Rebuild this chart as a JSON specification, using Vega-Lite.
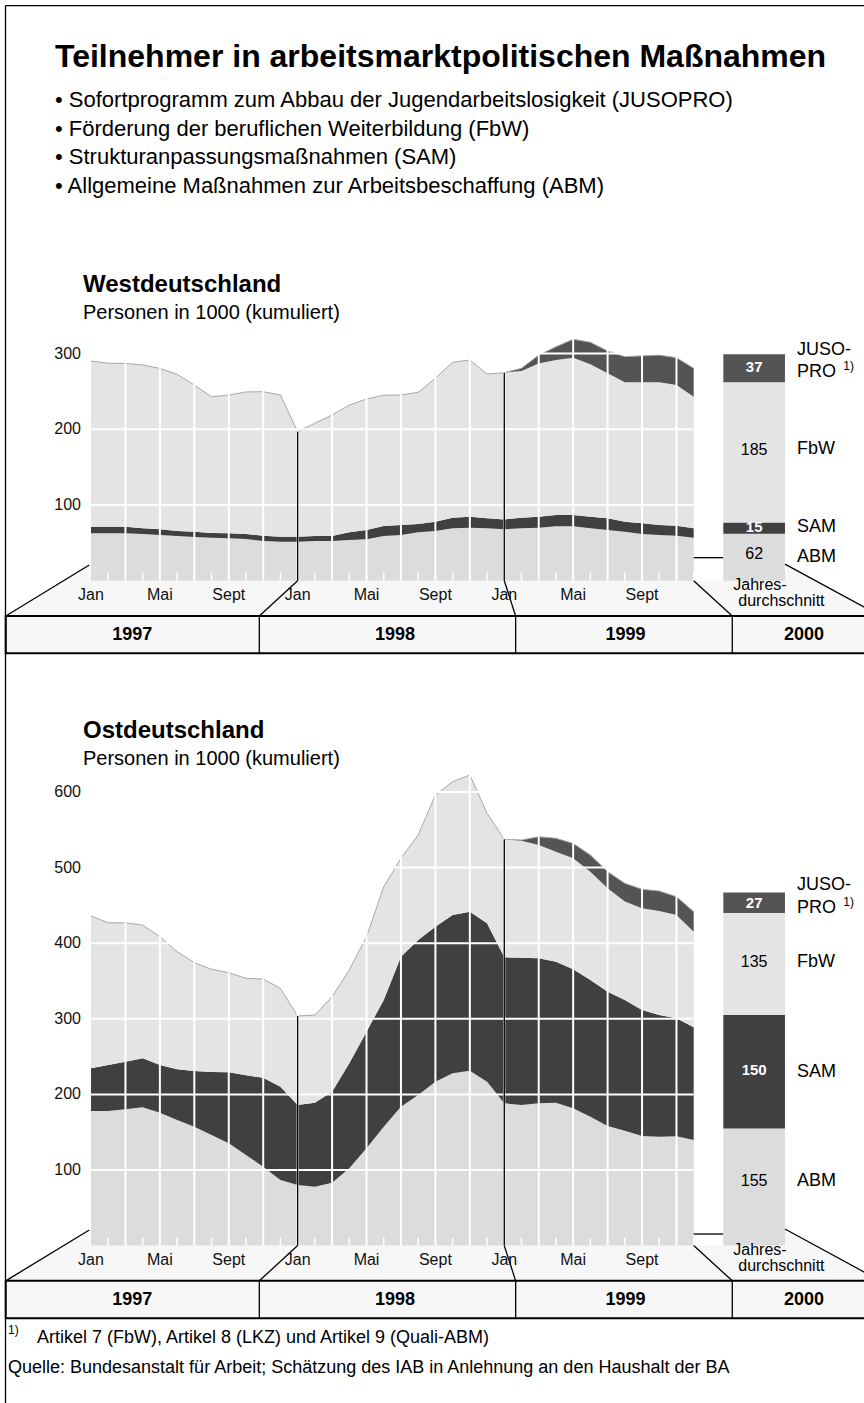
{
"$schema":"https://vega.github.io/schema/vega-lite/v6.json",
"width":864,"height":1403,"autosize":{"type":"none"},"padding":0,"background":"white",
"title":{"text":"Teilnehmer in arbeitsmarktpolitischen Maßnahmen","subtitle":["\u00a0• Sofortprogramm zum Abbau der Jugendarbeitslosigkeit (JUSOPRO)","\u00a0• Förderung der beruflichen Weiterbildung (FbW)","\u00a0• Strukturanpassungsmaßnahmen (SAM)","\u00a0• Allgemeine Maßnahmen zur Arbeitsbeschaffung (ABM)"],
"anchor":"start","frame":"group","dx":55,"offset":-198,"fontSize":32,"fontWeight":"bold","color":"#000","subtitleFontSize":22,"subtitleColor":"#000","subtitleLineHeight":28.7,"subtitlePadding":16},
"config":{"font":"Liberation Sans, Arial, sans-serif","view":{"stroke":null},"axis":{"disable":true},"legend":{"disable":true}},
"datasets":{
"serien":[{"series":"ABM","rank":1},{"series":"SAM","rank":2},{"series":"FbW","rank":3},{"series":"JUSO","rank":4}],
"reihen":[
{"r":"West","m":0,"ABM":62.6,"SAM":8.7,"FbW":218.9,"JUSO":0},
{"r":"West","m":1,"ABM":62.6,"SAM":8.7,"FbW":215.9,"JUSO":0},
{"r":"West","m":2,"ABM":62.6,"SAM":8.7,"FbW":215.7,"JUSO":0},
{"r":"West","m":3,"ABM":61.7,"SAM":7.5,"FbW":215.8,"JUSO":0},
{"r":"West","m":4,"ABM":60.4,"SAM":7.5,"FbW":212.6,"JUSO":0},
{"r":"West","m":5,"ABM":59.0,"SAM":6.7,"FbW":206.9,"JUSO":0},
{"r":"West","m":6,"ABM":57.7,"SAM":7.0,"FbW":193.8,"JUSO":0},
{"r":"West","m":7,"ABM":56.8,"SAM":6.2,"FbW":180.0,"JUSO":0},
{"r":"West","m":8,"ABM":56.0,"SAM":6.6,"FbW":182.7,"JUSO":0},
{"r":"West","m":9,"ABM":55.0,"SAM":6.7,"FbW":187.6,"JUSO":0},
{"r":"West","m":10,"ABM":52.4,"SAM":7.0,"FbW":190.3,"JUSO":0},
{"r":"West","m":11,"ABM":51.5,"SAM":6.6,"FbW":187.2,"JUSO":0},
{"r":"West","m":12,"ABM":51.5,"SAM":6.6,"FbW":138.9,"JUSO":0},
{"r":"West","m":13,"ABM":52.4,"SAM":6.6,"FbW":149.0,"JUSO":0},
{"r":"West","m":14,"ABM":52.4,"SAM":6.6,"FbW":160.0,"JUSO":0},
{"r":"West","m":15,"ABM":53.8,"SAM":10.1,"FbW":168.1,"JUSO":0},
{"r":"West","m":16,"ABM":54.7,"SAM":12.3,"FbW":173.0,"JUSO":0},
{"r":"West","m":17,"ABM":59.0,"SAM":13.3,"FbW":172.7,"JUSO":0},
{"r":"West","m":18,"ABM":60.4,"SAM":13.2,"FbW":171.7,"JUSO":0},
{"r":"West","m":19,"ABM":64.0,"SAM":10.9,"FbW":173.9,"JUSO":0},
{"r":"West","m":20,"ABM":65.7,"SAM":12.3,"FbW":189.4,"JUSO":0},
{"r":"West","m":21,"ABM":69.2,"SAM":14.0,"FbW":205.3,"JUSO":0},
{"r":"West","m":22,"ABM":70.0,"SAM":14.5,"FbW":207.0,"JUSO":0},
{"r":"West","m":23,"ABM":69.2,"SAM":13.2,"FbW":190.6,"JUSO":0},
{"r":"West","m":24,"ABM":67.9,"SAM":13.1,"FbW":193.8,"JUSO":0},
{"r":"West","m":25,"ABM":69.2,"SAM":14.0,"FbW":193.8,"JUSO":3.6},
{"r":"West","m":26,"ABM":70.0,"SAM":14.5,"FbW":202.5,"JUSO":11.0},
{"r":"West","m":27,"ABM":71.8,"SAM":15.0,"FbW":204.7,"JUSO":17.5},
{"r":"West","m":28,"ABM":71.8,"SAM":15.0,"FbW":207.8,"JUSO":24.4},
{"r":"West","m":29,"ABM":69.2,"SAM":15.3,"FbW":201.3,"JUSO":29.2},
{"r":"West","m":30,"ABM":67.0,"SAM":15.4,"FbW":191.6,"JUSO":29.4},
{"r":"West","m":31,"ABM":64.7,"SAM":13.3,"FbW":184.0,"JUSO":34.0},
{"r":"West","m":32,"ABM":61.7,"SAM":14.1,"FbW":186.2,"JUSO":35.0},
{"r":"West","m":33,"ABM":60.4,"SAM":13.2,"FbW":188.4,"JUSO":36.0},
{"r":"West","m":34,"ABM":59.4,"SAM":13.3,"FbW":185.8,"JUSO":36.1},
{"r":"West","m":35,"ABM":56.8,"SAM":12.4,"FbW":173.8,"JUSO":37.6},
{"r":"Ost","m":0,"ABM":178.0,"SAM":56.5,"FbW":201.5,"JUSO":0},
{"r":"Ost","m":1,"ABM":178.0,"SAM":60.9,"FbW":188.1,"JUSO":0},
{"r":"Ost","m":2,"ABM":180.3,"SAM":63.0,"FbW":183.7,"JUSO":0},
{"r":"Ost","m":3,"ABM":182.9,"SAM":64.8,"FbW":176.3,"JUSO":0},
{"r":"Ost","m":4,"ABM":175.8,"SAM":63.1,"FbW":169.7,"JUSO":0},
{"r":"Ost","m":5,"ABM":166.1,"SAM":67.1,"FbW":155.6,"JUSO":0},
{"r":"Ost","m":6,"ABM":157.3,"SAM":73.7,"FbW":143.2,"JUSO":0},
{"r":"Ost","m":7,"ABM":146.3,"SAM":83.3,"FbW":135.9,"JUSO":0},
{"r":"Ost","m":8,"ABM":135.3,"SAM":93.9,"FbW":131.8,"JUSO":0},
{"r":"Ost","m":9,"ABM":119.8,"SAM":105.4,"FbW":128.3,"JUSO":0},
{"r":"Ost","m":10,"ABM":104.4,"SAM":117.7,"FbW":130.5,"JUSO":0},
{"r":"Ost","m":11,"ABM":86.8,"SAM":123.4,"FbW":130.1,"JUSO":0},
{"r":"Ost","m":12,"ABM":80.2,"SAM":105.8,"FbW":117.7,"JUSO":0},
{"r":"Ost","m":13,"ABM":77.9,"SAM":111.1,"FbW":116.0,"JUSO":0},
{"r":"Ost","m":14,"ABM":83.2,"SAM":120.4,"FbW":125.6,"JUSO":0},
{"r":"Ost","m":15,"ABM":102.2,"SAM":138.9,"FbW":123.5,"JUSO":0},
{"r":"Ost","m":16,"ABM":128.7,"SAM":154.3,"FbW":125.6,"JUSO":0},
{"r":"Ost","m":17,"ABM":157.3,"SAM":167.6,"FbW":149.8,"JUSO":0},
{"r":"Ost","m":18,"ABM":183.7,"SAM":198.5,"FbW":130.1,"JUSO":0},
{"r":"Ost","m":19,"ABM":199.2,"SAM":205.0,"FbW":138.8,"JUSO":0},
{"r":"Ost","m":20,"ABM":216.8,"SAM":205.0,"FbW":174.2,"JUSO":0},
{"r":"Ost","m":21,"ABM":227.9,"SAM":209.4,"FbW":176.3,"JUSO":0},
{"r":"Ost","m":22,"ABM":231.4,"SAM":210.3,"FbW":180.8,"JUSO":0},
{"r":"Ost","m":23,"ABM":216.8,"SAM":209.5,"FbW":145.5,"JUSO":0},
{"r":"Ost","m":24,"ABM":188.2,"SAM":193.1,"FbW":156.1,"JUSO":0},
{"r":"Ost","m":25,"ABM":186.0,"SAM":194.9,"FbW":154.7,"JUSO":0.9},
{"r":"Ost","m":26,"ABM":188.2,"SAM":191.8,"FbW":149.9,"JUSO":11.0},
{"r":"Ost","m":27,"ABM":189.0,"SAM":186.6,"FbW":145.4,"JUSO":17.8},
{"r":"Ost","m":28,"ABM":181.6,"SAM":183.9,"FbW":146.8,"JUSO":19.7},
{"r":"Ost","m":29,"ABM":170.5,"SAM":180.8,"FbW":143.3,"JUSO":22.1},
{"r":"Ost","m":30,"ABM":158.2,"SAM":177.6,"FbW":136.8,"JUSO":22.0},
{"r":"Ost","m":31,"ABM":152.0,"SAM":172.9,"FbW":130.1,"JUSO":24.2},
{"r":"Ost","m":32,"ABM":145.0,"SAM":166.6,"FbW":134.6,"JUSO":25.1},
{"r":"Ost","m":33,"ABM":144.1,"SAM":160.9,"FbW":137.6,"JUSO":26.4},
{"r":"Ost","m":34,"ABM":144.5,"SAM":156.2,"FbW":136.6,"JUSO":24.2},
{"r":"Ost","m":35,"ABM":139.7,"SAM":149.1,"FbW":126.4,"JUSO":26.5}
],
"schnitt":[
{"r":"West","series":"ABM","value":62},{"r":"West","series":"SAM","value":15},{"r":"West","series":"FbW","value":185},{"r":"West","series":"JUSO","value":37},
{"r":"Ost","series":"ABM","value":155},{"r":"Ost","series":"SAM","value":150},{"r":"Ost","series":"FbW","value":135},{"r":"Ost","series":"JUSO","value":27}
],
"gitter":[
{"r":"West","v":100},{"r":"West","v":200},{"r":"West","v":300},
{"r":"Ost","v":100},{"r":"Ost","v":200},{"r":"Ost","v":300},{"r":"Ost","v":400},{"r":"Ost","v":500},{"r":"Ost","v":600}
],
"monate":[
{"m":0,"n":"Jan"},{"m":1,"n":"Feb"},{"m":2,"n":"März"},{"m":3,"n":"Apr"},{"m":4,"n":"Mai"},{"m":5,"n":"Juni"},{"m":6,"n":"Juli"},{"m":7,"n":"Aug"},{"m":8,"n":"Sept"},{"m":9,"n":"Okt"},{"m":10,"n":"Nov"},{"m":11,"n":"Dez"},
{"m":12,"n":"Jan"},{"m":13,"n":"Feb"},{"m":14,"n":"März"},{"m":15,"n":"Apr"},{"m":16,"n":"Mai"},{"m":17,"n":"Juni"},{"m":18,"n":"Juli"},{"m":19,"n":"Aug"},{"m":20,"n":"Sept"},{"m":21,"n":"Okt"},{"m":22,"n":"Nov"},{"m":23,"n":"Dez"},
{"m":24,"n":"Jan"},{"m":25,"n":"Feb"},{"m":26,"n":"März"},{"m":27,"n":"Apr"},{"m":28,"n":"Mai"},{"m":29,"n":"Juni"},{"m":30,"n":"Juli"},{"m":31,"n":"Aug"},{"m":32,"n":"Sept"},{"m":33,"n":"Okt"},{"m":34,"n":"Nov"},{"m":35,"n":"Dez"}
],
"boden":[{"m":-4.95,"v":-46.6},{"m":-0.1,"v":20.7},{"m":0,"v":0},{"m":36.72,"v":0},{"m":40.3,"v":21.9},{"m":45.84,"v":-46.6}],
"linien":[
{"r":"beide","m":-0.1,"v":20.7,"m2":-4.95,"v2":-46.6},
{"r":"beide","m":12,"v":0,"m2":9.774,"v2":-46.6},
{"r":"beide","m":9.774,"v":-46.6,"m2":9.774,"v2":-96},
{"r":"beide","m":24,"v":0,"m2":24.66,"v2":-46.6},
{"r":"beide","m":24.66,"v":-46.6,"m2":24.66,"v2":-96},
{"r":"beide","m":35,"v":0,"m2":37.24,"v2":-46.6},
{"r":"beide","m":37.24,"v":-46.6,"m2":37.24,"v2":-96},
{"r":"beide","m":40.3,"v":21.9,"m2":45.84,"v2":-46.6},
{"r":"West","m":12,"v":0,"m2":12,"v2":197},
{"r":"West","m":24,"v":0,"m2":24,"v2":274.8},
{"r":"West","m":35,"v":30.4,"m2":36.72,"v2":30.4},
{"r":"Ost","m":12,"v":0,"m2":12,"v2":303.7},
{"r":"Ost","m":24,"v":0,"m2":24,"v2":537.4},
{"r":"Ost","m":35,"v":15.3,"m2":36.72,"v2":15.3},
{"r":"Rahmen","m":-4.965,"v":759.8,"m2":-4.965,"v2":-1086.3},
{"r":"Rahmen","m":-4.965,"v":759.8,"m2":46,"v2":759.8}
],
"texte":[
{"r":"West","k":"head","t":"Westdeutschland","m":-0.465,"v":390.6},
{"r":"West","k":"sub","t":"Personen in 1000 (kumuliert)","m":-0.465,"v":353.6},
{"r":"West","k":"numd","t":"37","m":38.51,"v":282.7},
{"r":"West","k":"numd","t":"15","m":38.51,"v":70.5},
{"r":"West","k":"numl","t":"185","m":38.51,"v":172.7},
{"r":"West","k":"numl","t":"62","m":38.51,"v":35.5},
{"r":"West","k":"side","t":"JUSO-","m":41.0,"v":304.8},
{"r":"West","k":"side","t":"PRO","m":41.0,"v":275.3},
{"r":"West","k":"side","t":"FbW","m":41.0,"v":173.6},
{"r":"West","k":"side","t":"SAM","m":41.0,"v":70.5},
{"r":"West","k":"side","t":"ABM","m":41.0,"v":30.9},
{"r":"West","k":"sup","t":"1)","m":43.69,"v":283.6},
{"r":"Ost","k":"head","t":"Ostdeutschland","m":-0.465,"v":681},
{"r":"Ost","k":"sub","t":"Personen in 1000 (kumuliert)","m":-0.465,"v":644},
{"r":"Ost","k":"numd","t":"27","m":38.51,"v":453.6},
{"r":"Ost","k":"numd","t":"150","m":38.51,"v":232.3},
{"r":"Ost","k":"numl","t":"135","m":38.51,"v":375.5},
{"r":"Ost","k":"numl","t":"155","m":38.51,"v":85},
{"r":"Ost","k":"side","t":"JUSO-","m":41.0,"v":477},
{"r":"Ost","k":"side","t":"PRO","m":41.0,"v":446.2},
{"r":"Ost","k":"side","t":"FbW","m":41.0,"v":375.5},
{"r":"Ost","k":"side","t":"SAM","m":41.0,"v":230},
{"r":"Ost","k":"side","t":"ABM","m":41.0,"v":85},
{"r":"Ost","k":"sup","t":"1)","m":43.69,"v":454.9},
{"r":"Ost","k":"sup","t":"1)","m":-4.82,"v":-111.6},
{"r":"Ost","k":"foot","t":"Artikel 7 (FbW), Artikel 8 (LKZ) und Artikel 9 (Quali-ABM)","m":-3.136,"v":-122.2},
{"r":"Ost","k":"foot","t":"Quelle: Bundesanstalt für Arbeit; Schätzung des IAB in Anlehnung an den Haushalt der BA","m":-4.82,"v":-161.9},
{"r":"beide","k":"jd","t":"Jahres-","m":37.30,"v":-5.7},
{"r":"beide","k":"jd","t":"durchschnitt","m":37.59,"v":-27.3},
{"r":"beide","k":"year","t":"1997","m":2.4,"v":-71.3},
{"r":"beide","k":"year","t":"1998","m":17.65,"v":-71.3},
{"r":"beide","k":"year","t":"1999","m":31.04,"v":-71.3},
{"r":"beide","k":"year","t":"2000","m":41.4,"v":-71.3}
]
},
"resolve":{"scale":{"y":"independent"}},
"layer":[
{"layer":[
{"data":{"name":"boden"},"mark":{"type":"area","color":"#f7f7f7"},"encoding":{"x":{"field":"m","type":"quantitative"},"y":{"field":"v","type":"quantitative"},"y2":{"datum":-46.6}}},
{"data":{"values":[{}]},"mark":{"type":"rect","fill":"#f7f7f7","stroke":"#000","strokeWidth":2},"encoding":{"x":{"datum":-4.95,"type":"quantitative"},"x2":{"datum":46},"y":{"datum":-46.6,"type":"quantitative"},"y2":{"datum":-96}}},
{"data":{"name":"reihen"},"transform":[{"filter":"datum.r == 'West'"},{"fold":["ABM","SAM","FbW","JUSO"],"as":["series","value"]},{"lookup":"series","from":{"data":{"name":"serien"},"key":"series","fields":["rank"]}}],
 "mark":{"type":"area"},
 "encoding":{"x":{"field":"m","type":"quantitative","scale":{"domain":[-5.2846,44.8897],"nice":false,"zero":false}},
 "y":{"field":"value","type":"quantitative","stack":"zero","scale":{"domain":[-1086.26,767.11],"nice":false,"zero":false}},
 "color":{"field":"series","type":"nominal","scale":{"domain":["ABM","SAM","FbW","JUSO"],"range":["#dcdcdc","#404040","#e4e4e4","#545454"]},"legend":null},
 "order":{"field":"rank","type":"quantitative"}}},
{"data":{"name":"reihen"},"transform":[{"filter":"datum.r == 'West'"},{"fold":["ABM","SAM","FbW","JUSO"],"as":["series","value"]}],"mark":{"type":"line","color":"#a8a8a8","strokeWidth":1},"encoding":{"x":{"field":"m","type":"quantitative"},"y":{"aggregate":"sum","field":"value","type":"quantitative"}}},
{"data":{"name":"gitter"},"transform":[{"filter":"datum.r == 'West'"}],"mark":{"type":"rule","color":"white","strokeWidth":2},"encoding":{"x":{"datum":0,"type":"quantitative"},"x2":{"datum":35},"y":{"field":"v","type":"quantitative"}}},
{"data":{"name":"monate"},"transform":[{"filter":"datum.m % 2 == 0 && datum.m > 0"}],"mark":{"type":"rule","color":"white","strokeWidth":2},"encoding":{"x":{"field":"m","type":"quantitative"},"y":{"datum":0,"type":"quantitative"},"y2":{"datum":325}}},
{"data":{"name":"monate"},"transform":[{"filter":"datum.m % 2 == 1"}],"mark":{"type":"rule","color":"white","strokeWidth":1.5},"encoding":{"x":{"field":"m","type":"quantitative"},"y":{"datum":0,"type":"quantitative"},"y2":{"datum":10.6}}},
{"data":{"name":"linien"},"transform":[{"filter":"datum.r == 'West' || datum.r == 'beide' || datum.r == 'Rahmen'"}],"mark":{"type":"rule","color":"#000","strokeWidth":1.3},"encoding":{"x":{"field":"m","type":"quantitative"},"y":{"field":"v","type":"quantitative"},"x2":{"field":"m2"},"y2":{"field":"v2"}}},
{"data":{"name":"schnitt"},"transform":[{"filter":"datum.r == 'West'"},{"lookup":"series","from":{"data":{"name":"serien"},"key":"series","fields":["rank"]}},{"stack":"value","groupby":["r"],"sort":[{"field":"rank","order":"ascending"}],"as":["v0","v1"]}],"mark":{"type":"rect"},
 "encoding":{"x":{"datum":36.72,"type":"quantitative"},"x2":{"datum":40.3},"y":{"field":"v0","type":"quantitative"},"y2":{"field":"v1"},
 "color":{"field":"series","type":"nominal","scale":{"domain":["ABM","SAM","FbW","JUSO"],"range":["#dcdcdc","#404040","#e4e4e4","#545454"]},"legend":null}}},
{"data":{"name":"gitter"},"transform":[{"filter":"datum.r == 'West'"}],"mark":{"type":"text","align":"right","baseline":"middle","fontSize":16,"color":"#111"},"encoding":{"x":{"datum":-0.58,"type":"quantitative"},"y":{"field":"v","type":"quantitative"},"text":{"field":"v","type":"quantitative"}}},
{"data":{"name":"monate"},"transform":[{"filter":{"field":"n","oneOf":["Jan","Mai","Sept"]}}],"mark":{"type":"text","align":"center","baseline":"middle","fontSize":16,"color":"#111"},"encoding":{"x":{"field":"m","type":"quantitative"},"y":{"datum":-18.9,"type":"quantitative"},"text":{"field":"n"}}},
{"data":{"name":"texte"},"transform":[{"filter":"(datum.r == 'West' || datum.r == 'beide') && datum.k == 'head'"}],"mark":{"type":"text","align":"left","baseline":"middle","fontSize":24,"fontWeight":"bold","color":"#000"},"encoding":{"x":{"field":"m","type":"quantitative"},"y":{"field":"v","type":"quantitative"},"text":{"field":"t"}}},
{"data":{"name":"texte"},"transform":[{"filter":"(datum.r == 'West' || datum.r == 'beide') && datum.k == 'sub'"}],"mark":{"type":"text","align":"left","baseline":"middle","fontSize":20,"color":"#000"},"encoding":{"x":{"field":"m","type":"quantitative"},"y":{"field":"v","type":"quantitative"},"text":{"field":"t"}}},
{"data":{"name":"texte"},"transform":[{"filter":"(datum.r == 'West' || datum.r == 'beide') && datum.k == 'numd'"}],"mark":{"type":"text","align":"center","baseline":"middle","fontSize":15,"fontWeight":"bold","color":"white"},"encoding":{"x":{"field":"m","type":"quantitative"},"y":{"field":"v","type":"quantitative"},"text":{"field":"t"}}},
{"data":{"name":"texte"},"transform":[{"filter":"(datum.r == 'West' || datum.r == 'beide') && datum.k == 'numl'"}],"mark":{"type":"text","align":"center","baseline":"middle","fontSize":16,"color":"#000"},"encoding":{"x":{"field":"m","type":"quantitative"},"y":{"field":"v","type":"quantitative"},"text":{"field":"t"}}},
{"data":{"name":"texte"},"transform":[{"filter":"(datum.r == 'West' || datum.r == 'beide') && datum.k == 'side'"}],"mark":{"type":"text","align":"left","baseline":"middle","fontSize":18,"color":"#000"},"encoding":{"x":{"field":"m","type":"quantitative"},"y":{"field":"v","type":"quantitative"},"text":{"field":"t"}}},
{"data":{"name":"texte"},"transform":[{"filter":"(datum.r == 'West' || datum.r == 'beide') && datum.k == 'sup'"}],"mark":{"type":"text","align":"left","baseline":"middle","fontSize":12,"color":"#000"},"encoding":{"x":{"field":"m","type":"quantitative"},"y":{"field":"v","type":"quantitative"},"text":{"field":"t"}}},
{"data":{"name":"texte"},"transform":[{"filter":"(datum.r == 'West' || datum.r == 'beide') && datum.k == 'jd'"}],"mark":{"type":"text","align":"left","baseline":"middle","fontSize":16,"color":"#000"},"encoding":{"x":{"field":"m","type":"quantitative"},"y":{"field":"v","type":"quantitative"},"text":{"field":"t"}}},
{"data":{"name":"texte"},"transform":[{"filter":"(datum.r == 'West' || datum.r == 'beide') && datum.k == 'year'"}],"mark":{"type":"text","align":"center","baseline":"middle","fontSize":18,"fontWeight":"bold","color":"#000"},"encoding":{"x":{"field":"m","type":"quantitative"},"y":{"field":"v","type":"quantitative"},"text":{"field":"t"}}}
]},
{"layer":[
{"data":{"name":"boden"},"mark":{"type":"area","color":"#f7f7f7"},"encoding":{"x":{"field":"m","type":"quantitative"},"y":{"field":"v","type":"quantitative"},"y2":{"datum":-46.6}}},
{"data":{"values":[{}]},"mark":{"type":"rect","fill":"#f7f7f7","stroke":"#000","strokeWidth":2},"encoding":{"x":{"datum":-4.95,"type":"quantitative"},"x2":{"datum":46},"y":{"datum":-46.6,"type":"quantitative"},"y2":{"datum":-96}}},
{"data":{"name":"reihen"},"transform":[{"filter":"datum.r == 'Ost'"},{"fold":["ABM","SAM","FbW","JUSO"],"as":["series","value"]},{"lookup":"series","from":{"data":{"name":"serien"},"key":"series","fields":["rank"]}}],
 "mark":{"type":"area"},
 "encoding":{"x":{"field":"m","type":"quantitative","scale":{"domain":[-5.2846,44.8897],"nice":false,"zero":false}},
 "y":{"field":"value","type":"quantitative","stack":"zero","scale":{"domain":[-208.2,1647.6],"nice":false,"zero":false}},
 "color":{"field":"series","type":"nominal","scale":{"domain":["ABM","SAM","FbW","JUSO"],"range":["#dcdcdc","#404040","#e4e4e4","#545454"]},"legend":null},
 "order":{"field":"rank","type":"quantitative"}}},
{"data":{"name":"reihen"},"transform":[{"filter":"datum.r == 'Ost'"},{"fold":["ABM","SAM","FbW","JUSO"],"as":["series","value"]}],"mark":{"type":"line","color":"#a8a8a8","strokeWidth":1},"encoding":{"x":{"field":"m","type":"quantitative"},"y":{"aggregate":"sum","field":"value","type":"quantitative"}}},
{"data":{"name":"gitter"},"transform":[{"filter":"datum.r == 'Ost'"}],"mark":{"type":"rule","color":"white","strokeWidth":2},"encoding":{"x":{"datum":0,"type":"quantitative"},"x2":{"datum":35},"y":{"field":"v","type":"quantitative"}}},
{"data":{"name":"monate"},"transform":[{"filter":"datum.m % 2 == 0 && datum.m > 0"}],"mark":{"type":"rule","color":"white","strokeWidth":2},"encoding":{"x":{"field":"m","type":"quantitative"},"y":{"datum":0,"type":"quantitative"},"y2":{"datum":630}}},
{"data":{"name":"monate"},"transform":[{"filter":"datum.m % 2 == 1"}],"mark":{"type":"rule","color":"white","strokeWidth":1.5},"encoding":{"x":{"field":"m","type":"quantitative"},"y":{"datum":0,"type":"quantitative"},"y2":{"datum":10.6}}},
{"data":{"name":"linien"},"transform":[{"filter":"datum.r == 'Ost' || datum.r == 'beide'"}],"mark":{"type":"rule","color":"#000","strokeWidth":1.3},"encoding":{"x":{"field":"m","type":"quantitative"},"y":{"field":"v","type":"quantitative"},"x2":{"field":"m2"},"y2":{"field":"v2"}}},
{"data":{"name":"schnitt"},"transform":[{"filter":"datum.r == 'Ost'"},{"lookup":"series","from":{"data":{"name":"serien"},"key":"series","fields":["rank"]}},{"stack":"value","groupby":["r"],"sort":[{"field":"rank","order":"ascending"}],"as":["v0","v1"]}],"mark":{"type":"rect"},
 "encoding":{"x":{"datum":36.72,"type":"quantitative"},"x2":{"datum":40.3},"y":{"field":"v0","type":"quantitative"},"y2":{"field":"v1"},
 "color":{"field":"series","type":"nominal","scale":{"domain":["ABM","SAM","FbW","JUSO"],"range":["#dcdcdc","#404040","#e4e4e4","#545454"]},"legend":null}}},
{"data":{"name":"gitter"},"transform":[{"filter":"datum.r == 'Ost'"}],"mark":{"type":"text","align":"right","baseline":"middle","fontSize":16,"color":"#111"},"encoding":{"x":{"datum":-0.58,"type":"quantitative"},"y":{"field":"v","type":"quantitative"},"text":{"field":"v","type":"quantitative"}}},
{"data":{"name":"monate"},"transform":[{"filter":{"field":"n","oneOf":["Jan","Mai","Sept"]}}],"mark":{"type":"text","align":"center","baseline":"middle","fontSize":16,"color":"#111"},"encoding":{"x":{"field":"m","type":"quantitative"},"y":{"datum":-18.9,"type":"quantitative"},"text":{"field":"n"}}},
{"data":{"name":"texte"},"transform":[{"filter":"(datum.r == 'Ost' || datum.r == 'beide') && datum.k == 'head'"}],"mark":{"type":"text","align":"left","baseline":"middle","fontSize":24,"fontWeight":"bold","color":"#000"},"encoding":{"x":{"field":"m","type":"quantitative"},"y":{"field":"v","type":"quantitative"},"text":{"field":"t"}}},
{"data":{"name":"texte"},"transform":[{"filter":"(datum.r == 'Ost' || datum.r == 'beide') && datum.k == 'sub'"}],"mark":{"type":"text","align":"left","baseline":"middle","fontSize":20,"color":"#000"},"encoding":{"x":{"field":"m","type":"quantitative"},"y":{"field":"v","type":"quantitative"},"text":{"field":"t"}}},
{"data":{"name":"texte"},"transform":[{"filter":"(datum.r == 'Ost' || datum.r == 'beide') && datum.k == 'numd'"}],"mark":{"type":"text","align":"center","baseline":"middle","fontSize":15,"fontWeight":"bold","color":"white"},"encoding":{"x":{"field":"m","type":"quantitative"},"y":{"field":"v","type":"quantitative"},"text":{"field":"t"}}},
{"data":{"name":"texte"},"transform":[{"filter":"(datum.r == 'Ost' || datum.r == 'beide') && datum.k == 'numl'"}],"mark":{"type":"text","align":"center","baseline":"middle","fontSize":16,"color":"#000"},"encoding":{"x":{"field":"m","type":"quantitative"},"y":{"field":"v","type":"quantitative"},"text":{"field":"t"}}},
{"data":{"name":"texte"},"transform":[{"filter":"(datum.r == 'Ost' || datum.r == 'beide') && datum.k == 'side'"}],"mark":{"type":"text","align":"left","baseline":"middle","fontSize":18,"color":"#000"},"encoding":{"x":{"field":"m","type":"quantitative"},"y":{"field":"v","type":"quantitative"},"text":{"field":"t"}}},
{"data":{"name":"texte"},"transform":[{"filter":"(datum.r == 'Ost' || datum.r == 'beide') && datum.k == 'sup'"}],"mark":{"type":"text","align":"left","baseline":"middle","fontSize":12,"color":"#000"},"encoding":{"x":{"field":"m","type":"quantitative"},"y":{"field":"v","type":"quantitative"},"text":{"field":"t"}}},
{"data":{"name":"texte"},"transform":[{"filter":"(datum.r == 'Ost' || datum.r == 'beide') && datum.k == 'jd'"}],"mark":{"type":"text","align":"left","baseline":"middle","fontSize":16,"color":"#000"},"encoding":{"x":{"field":"m","type":"quantitative"},"y":{"field":"v","type":"quantitative"},"text":{"field":"t"}}},
{"data":{"name":"texte"},"transform":[{"filter":"(datum.r == 'Ost' || datum.r == 'beide') && datum.k == 'year'"}],"mark":{"type":"text","align":"center","baseline":"middle","fontSize":18,"fontWeight":"bold","color":"#000"},"encoding":{"x":{"field":"m","type":"quantitative"},"y":{"field":"v","type":"quantitative"},"text":{"field":"t"}}},
{"data":{"name":"texte"},"transform":[{"filter":"datum.r == 'Ost' && datum.k == 'foot'"}],"mark":{"type":"text","align":"left","baseline":"middle","fontSize":18,"color":"#000"},"encoding":{"x":{"field":"m","type":"quantitative"},"y":{"field":"v","type":"quantitative"},"text":{"field":"t"}}}
]}
]
}
